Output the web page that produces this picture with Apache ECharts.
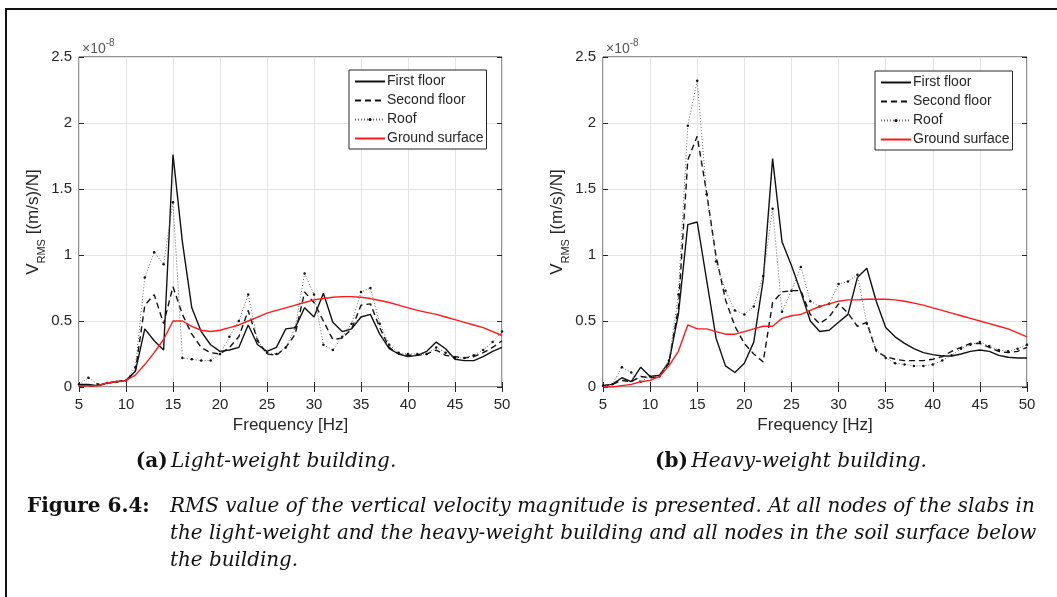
<!DOCTYPE html>
<html>
<head>
<meta charset="utf-8">
<script src="https://cdn.jsdelivr.net/npm/echarts@6/dist/echarts.min.js"></script>
<style>
html,body{margin:0;padding:0;background:#fff;}
#c{width:1057px;height:597px;}
</style>
</head>
<body>
<div id="c"></div>
<script>
// Frequencies (Hz)
var freq = [5,6,7,8,9,10,11,12,13,14,15,16,17,18,19,20,21,22,23,24,25,26,27,28,29,30,31,32,33,34,35,36,37,38,39,40,41,42,43,44,45,46,47,48,49,50];

// (a) Light-weight building, values in 1e-8 (m/s)/N
var lightFirst  = [0.02,0.02,0.01,0.03,0.04,0.05,0.12,0.44,0.35,0.28,1.76,1.10,0.60,0.42,0.32,0.27,0.28,0.30,0.47,0.32,0.27,0.30,0.44,0.45,0.60,0.53,0.71,0.49,0.42,0.44,0.53,0.55,0.40,0.29,0.25,0.23,0.24,0.27,0.34,0.29,0.21,0.20,0.20,0.23,0.27,0.30];
var lightSecond = [0.01,0.01,0.01,0.03,0.04,0.05,0.12,0.62,0.70,0.48,0.76,0.55,0.40,0.30,0.26,0.25,0.30,0.38,0.58,0.35,0.25,0.24,0.30,0.40,0.72,0.64,0.50,0.36,0.37,0.44,0.62,0.63,0.45,0.30,0.25,0.24,0.24,0.25,0.28,0.24,0.23,0.22,0.23,0.26,0.30,0.35];
var lightRoof   = [0.02,0.07,0.02,0.03,0.04,0.05,0.15,0.83,1.02,0.93,1.40,0.22,0.21,0.20,0.20,0.25,0.38,0.50,0.70,0.35,0.26,0.25,0.30,0.45,0.86,0.70,0.32,0.28,0.38,0.48,0.72,0.75,0.48,0.32,0.26,0.25,0.25,0.25,0.30,0.26,0.22,0.22,0.24,0.28,0.34,0.42];
var lightGround = [0.01,0.01,0.01,0.03,0.04,0.05,0.09,0.17,0.26,0.36,0.50,0.50,0.46,0.43,0.42,0.43,0.45,0.47,0.50,0.53,0.56,0.58,0.60,0.62,0.64,0.66,0.67,0.68,0.685,0.685,0.68,0.67,0.655,0.64,0.62,0.60,0.58,0.565,0.55,0.53,0.51,0.49,0.47,0.45,0.42,0.39];

// (b) Heavy-weight building
var heavyFirst  = [0.01,0.02,0.07,0.04,0.15,0.08,0.09,0.19,0.55,1.23,1.25,0.81,0.37,0.16,0.11,0.18,0.34,0.81,1.73,1.10,0.92,0.72,0.50,0.42,0.43,0.49,0.55,0.83,0.90,0.65,0.45,0.38,0.33,0.29,0.26,0.245,0.235,0.235,0.25,0.27,0.28,0.27,0.24,0.225,0.22,0.22];
var heavySecond = [0.01,0.02,0.05,0.04,0.08,0.07,0.08,0.18,0.60,1.72,1.90,1.47,0.99,0.66,0.46,0.33,0.25,0.19,0.64,0.72,0.73,0.73,0.55,0.48,0.53,0.63,0.56,0.46,0.49,0.27,0.23,0.21,0.20,0.20,0.20,0.21,0.23,0.27,0.30,0.33,0.33,0.30,0.27,0.26,0.27,0.30];
var heavyRoof   = [0.01,0.02,0.15,0.11,0.04,0.08,0.08,0.20,0.70,1.98,2.32,1.46,0.95,0.73,0.58,0.55,0.61,0.84,1.35,0.57,0.73,0.91,0.65,0.61,0.63,0.78,0.80,0.85,0.48,0.28,0.22,0.18,0.17,0.16,0.16,0.17,0.20,0.24,0.29,0.32,0.34,0.31,0.28,0.27,0.29,0.32];
var heavyGround = [0.00,0.00,0.01,0.02,0.04,0.05,0.08,0.16,0.27,0.47,0.44,0.44,0.42,0.40,0.40,0.42,0.44,0.46,0.46,0.52,0.54,0.55,0.58,0.61,0.63,0.65,0.66,0.66,0.665,0.665,0.665,0.66,0.65,0.635,0.62,0.60,0.58,0.56,0.54,0.52,0.50,0.48,0.46,0.44,0.41,0.38];

var xTicks = [5,10,15,20,25,30,35,40,45,50];
var yTicks = [0,0.5,1,1.5,2,2.5];
var seriesNames = ['First floor','Second floor','Roof','Ground surface'];
var subCaptions = [['(a)','Light-weight building.'],['(b)','Heavy-weight building.']];
var captionLabel = 'Figure 6.4:';
var captionLines = [
  'RMS value of the vertical velocity magnitude is presented. At all nodes of the slabs in',
  'the light-weight and the heavy-weight building and all nodes in the soil surface below',
  'the building.'
];

function pairs(v){ return freq.map(function(f,i){ return [f, v[i]]; }); }

var SANS = 'Liberation Sans, Arial, sans-serif';
var SERIF = 'DejaVu Serif, serif';
var TXT = '#262626';

var grids = [
  {left:79, top:57, width:423, height:330, show:true, borderColor:'#262626', borderWidth:1, backgroundColor:'#fff'},
  {left:603, top:57, width:424, height:330, show:true, borderColor:'#262626', borderWidth:1, backgroundColor:'#fff'}
];

var xAxes = [], yAxes = [];
[0,1].forEach(function(g){
  xAxes.push({
    type:'value', gridIndex:g, min:xTicks[0], max:xTicks[xTicks.length-1], interval:xTicks[1]-xTicks[0],
    name:'Frequency [Hz]', nameLocation:'middle', nameGap:29,
    nameTextStyle:{fontFamily:SANS, fontSize:17, color:TXT},
    axisLine:{show:false},
    axisTick:{show:true, inside:true, length:5, lineStyle:{color:TXT}},
    axisLabel:{fontFamily:SANS, fontSize:15, color:TXT, margin:10},
    splitLine:{show:true, lineStyle:{color:'#e3e3e3', width:1}}
  });
  xAxes.push({
    type:'value', gridIndex:g, min:xTicks[0], max:xTicks[xTicks.length-1], interval:xTicks[1]-xTicks[0], position:'top',
    axisLine:{show:false}, axisLabel:{show:false},
    axisTick:{show:true, inside:true, length:5, lineStyle:{color:TXT}},
    splitLine:{show:false}
  });
  yAxes.push({
    type:'value', gridIndex:g, min:yTicks[0], max:yTicks[yTicks.length-1], interval:yTicks[1]-yTicks[0],
    name:'{v|V}{s|RMS}{n| [(m/s)/N]}', nameLocation:'middle', nameGap:28, nameRotate:90,
    nameTextStyle:{fontFamily:SANS, color:TXT, rich:{
      v:{fontFamily:SANS, fontSize:17, color:TXT, verticalAlign:'top', lineHeight:20},
      s:{fontFamily:SANS, fontSize:11, color:TXT, verticalAlign:'top', padding:[11,0,0,0]},
      n:{fontFamily:SANS, fontSize:17, color:TXT, verticalAlign:'top', lineHeight:20}
    }},
    axisLine:{show:false},
    axisTick:{show:true, inside:true, length:5, lineStyle:{color:TXT}},
    axisLabel:{fontFamily:SANS, fontSize:15, color:TXT, margin:7},
    splitLine:{show:true, lineStyle:{color:'#e3e3e3', width:1}}
  });
  yAxes.push({
    type:'value', gridIndex:g, min:yTicks[0], max:yTicks[yTicks.length-1], interval:yTicks[1]-yTicks[0], position:'right',
    axisLine:{show:false}, axisLabel:{show:false},
    axisTick:{show:true, inside:true, length:5, lineStyle:{color:TXT}},
    splitLine:{show:false}
  });
});

function mk(name, data, xi, yi, kind){
  var s = {name:name, type:'line', xAxisIndex:xi, yAxisIndex:yi, data:pairs(data),
    animation:false, silent:true, smooth:false};
  if (kind==='solid'){ s.lineStyle={color:'#111', width:1.4, type:'solid'}; s.itemStyle={color:'#111'}; s.symbol='none'; s.z=2; }
  if (kind==='dash'){ s.lineStyle={color:'#111', width:1.4, type:[6,4]}; s.itemStyle={color:'#111'}; s.symbol='none'; s.z=3; }
  if (kind==='roof'){ s.lineStyle={color:'#666', width:1, type:[1,2]}; s.itemStyle={color:'#111'}; s.symbol='circle'; s.symbolSize=2.5; s.showSymbol=true; s.z=4; }
  if (kind==='red'){ s.lineStyle={color:'#ff1a1a', width:1.4, type:'solid'}; s.itemStyle={color:'#ff1a1a'}; s.symbol='none'; s.z=5; }
  return s;
}

var series = [
  mk(seriesNames[0], lightFirst, 0, 0, 'solid'),
  mk(seriesNames[1], lightSecond, 0, 0, 'dash'),
  mk(seriesNames[2], lightRoof, 0, 0, 'roof'),
  mk(seriesNames[3], lightGround, 0, 0, 'red'),
  mk(seriesNames[0], heavyFirst, 2, 2, 'solid'),
  mk(seriesNames[1], heavySecond, 2, 2, 'dash'),
  mk(seriesNames[2], heavyRoof, 2, 2, 'roof'),
  mk(seriesNames[3], heavyGround, 2, 2, 'red')
];

function legendAt(left, top){
  return {
    left:left, top:top, orient:'vertical',
    data:seriesNames.map(function(n, i){
      return i===2 ? {name:n} : {name:n, itemStyle:{opacity:0}};
    }),
    itemWidth:30, itemHeight:4, itemGap:2,
    padding:[3,3,2,5], backgroundColor:'#fff', borderColor:'#262626', borderWidth:1,
    textStyle:{fontFamily:SANS, fontSize:14, color:TXT, padding:[0,0,0,-3], lineHeight:17},
    selectedMode:false
  };
}

function supText(left){
  return {type:'text', left:left, top:38, style:{text:'{a|×10}{b|-8}', rich:{
    a:{fontFamily:SANS, fontSize:14, fill:'#555', verticalAlign:'top', padding:[4,0,0,0]},
    b:{fontFamily:SANS, fontSize:10, fill:'#555', verticalAlign:'top'}}}};
}
function subCap(x, pair){
  return {type:'text', x:x, y:462, style:{text:'{b|'+pair[0]+'} {i|'+pair[1]+'}', align:'center', verticalAlign:'middle', rich:{
    b:{fontFamily:SERIF, fontSize:20, fontWeight:'bold', fill:'#111'},
    i:{fontFamily:SERIF, fontSize:20, fontStyle:'italic', fill:'#111'}}}};
}

var graphics = [
  {type:'rect', shape:{x:6, y:9, width:1200, height:800}, style:{fill:null, stroke:'#111', lineWidth:2}, z:100},
  supText(82), supText(606),
  subCap(266, subCaptions[0]), subCap(791, subCaptions[1]),
  {type:'text', x:27, y:507, style:{text:captionLabel, verticalAlign:'middle', fontFamily:SERIF, fontSize:20, fontWeight:'bold', fill:'#111'}},
  {type:'text', x:170, y:507, style:{text:captionLines[0], verticalAlign:'middle', fontFamily:SERIF, fontSize:19.9, fontStyle:'italic', fill:'#111'}},
  {type:'text', x:170, y:534, style:{text:captionLines[1], verticalAlign:'middle', fontFamily:SERIF, fontSize:19.9, fontStyle:'italic', fill:'#111'}},
  {type:'text', x:170, y:561, style:{text:captionLines[2], verticalAlign:'middle', fontFamily:SERIF, fontSize:19.9, fontStyle:'italic', fill:'#111'}}
];

var chart = echarts.init(document.getElementById('c'), null, {renderer:'canvas'});
chart.setOption({
  backgroundColor:'#fff',
  animation:false,
  grid:grids,
  xAxis:xAxes,
  yAxis:yAxes,
  legend:[legendAt(349,70), legendAt(875,71)],
  series:series,
  graphic:graphics
});
</script>
</body>
</html>
